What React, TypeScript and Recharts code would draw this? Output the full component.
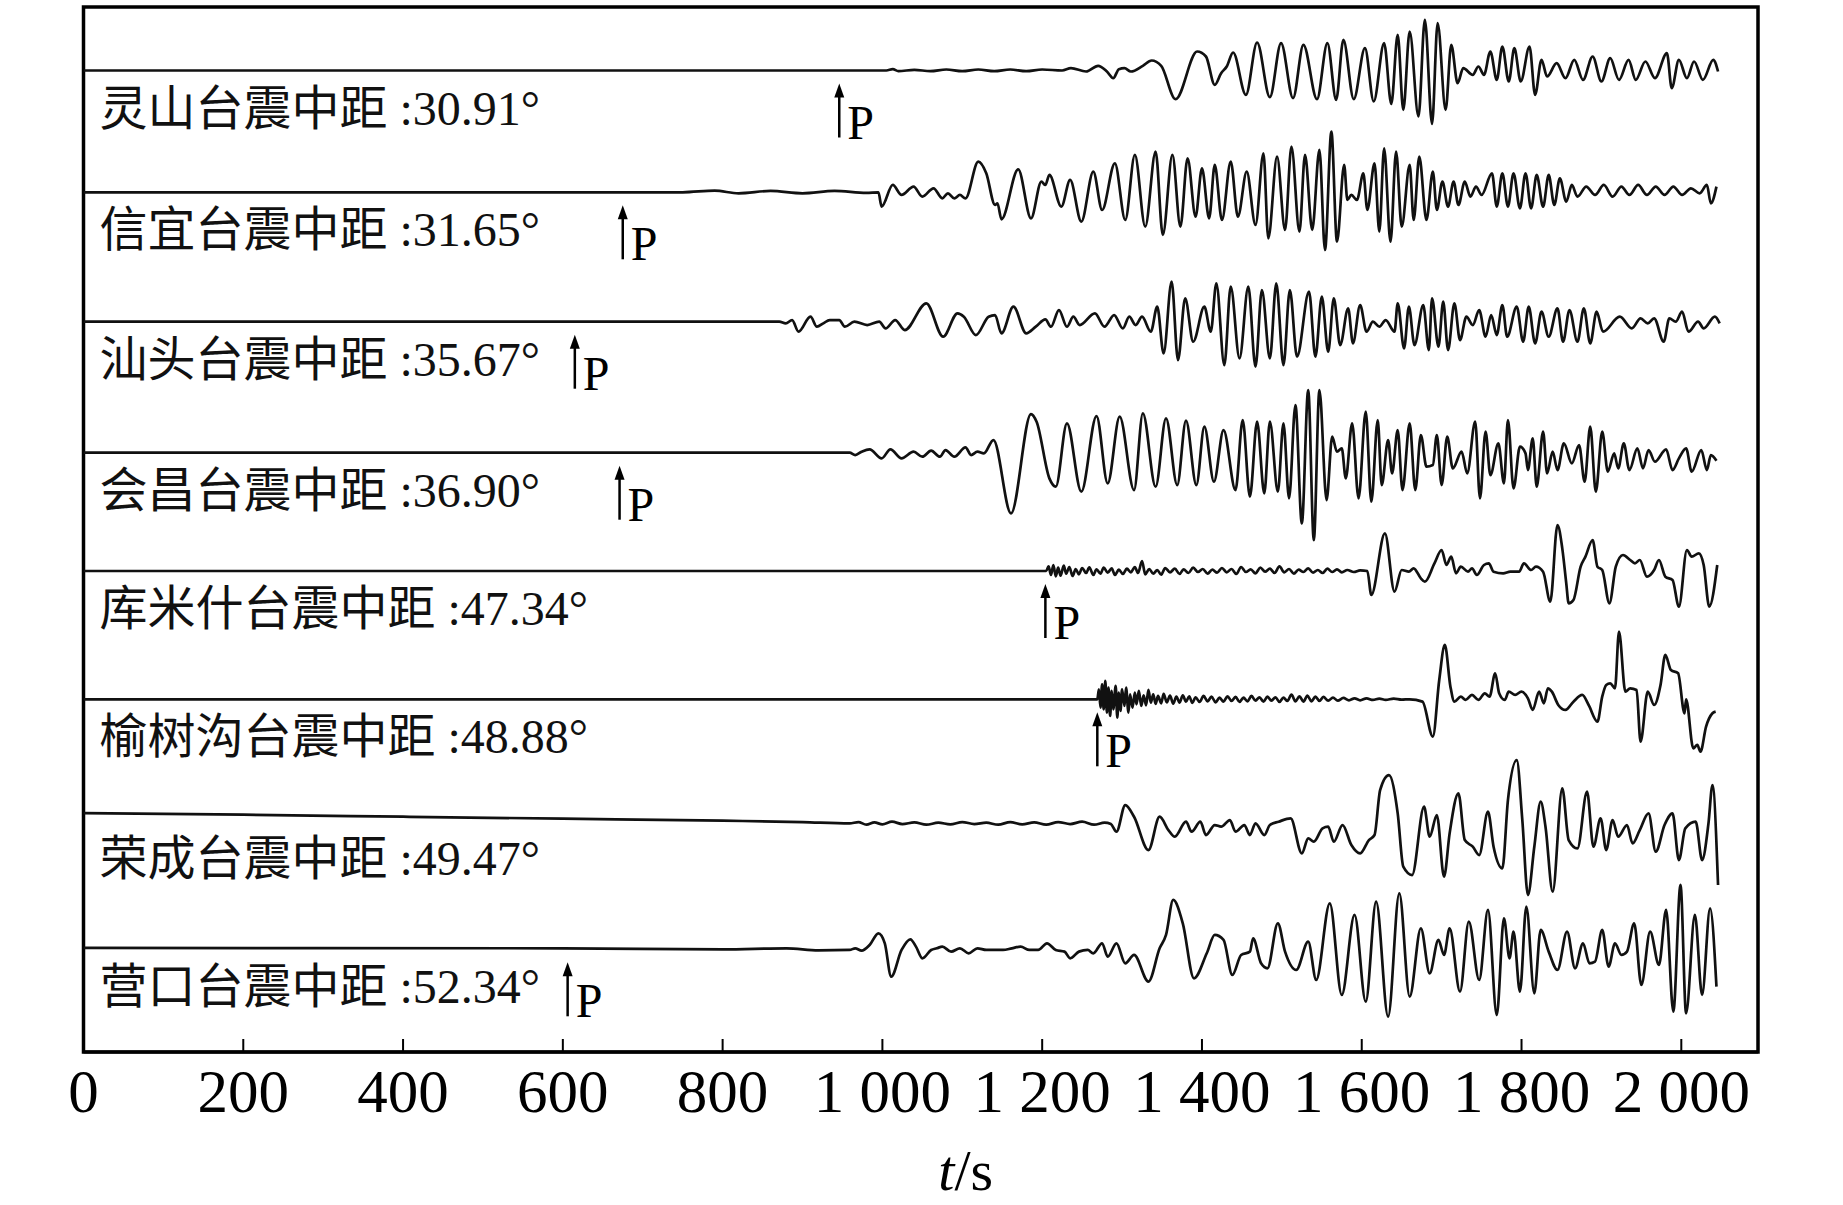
import React from "react";
import { LineChart, Line, XAxis, YAxis, ReferenceDot, ReferenceArea } from "recharts";

const stations = ["灵山台", "信宜台", "汕头台", "会昌台", "库米什台", "榆树沟台", "荣成台", "营口台"];
const distances = ["30.91", "31.65", "35.67", "36.90", "47.34", "48.88", "49.47", "52.34"];
// P arrival marks (s); 荣成台 has none
const pArrivals: (number | null)[] = [946, 675, 615, 671, 1204, 1269, null, 606];
const xTicks = [0, 200, 400, 600, 800, 1000, 1200, 1400, 1600, 1800, 2000];

// waveforms as [t (s), amplitude] pairs
const lingshan: [number, number][] = [
  [0, 0], [1005, 0], [1013, 4], [1020, -2], [1040, 2], [1060, -2], [1080, 3], [1100, -2], [1120, 3], [1140, -2],
  [1160, 3], [1180, -2], [1200, 3], [1225, 0], [1236, 7], [1255, -3], [1270, 14], [1281, -3], [1289, -23], [1296, 4],
  [1303, 7], [1311, -3], [1326, 14], [1337, 30], [1349, 14], [1367, -86], [1394, 57], [1405, 42], [1416, -43], [1424, -8],
  [1431, 12], [1439, 54], [1455, -73], [1469, 84], [1485, -80], [1499, 82], [1514, -83], [1527, 77], [1544, -86], [1557, 82],
  [1568, -88], [1577, 92], [1590, -86], [1604, 67], [1615, -93], [1628, 82], [1637, -100], [1645, 107], [1652, -118], [1660, 117],
  [1671, -138], [1679, 152], [1688, -160], [1695, 142], [1705, -118], [1712, 77], [1720, -38], [1727, 7], [1739, -13], [1746, 12],
  [1753, -13], [1761, 57], [1769, -28], [1776, 72], [1784, -33], [1791, 67], [1799, -33], [1810, 72], [1817, -73], [1825, 32],
  [1832, -18], [1844, 22], [1855, -23], [1866, 32], [1877, -28], [1889, 42], [1900, -33], [1911, 37], [1922, -28], [1934, 32],
  [1943, -28], [1955, 27], [1967, -23], [1982, 52], [1988, -53], [1997, 32], [2007, -23], [2016, 27], [2027, -28], [2040, 32],
  [2046, -3],
];

const xinyi: [number, number][] = [
  [0, 0], [750, 0], [790, 5], [820, -3], [860, 4], [900, -3], [940, 4], [980, -2], [995, 0], [999, -43],
  [1013, 22], [1024, -8], [1039, 17], [1050, -13], [1064, 12], [1075, -18], [1082, -3], [1090, -18], [1097, -8], [1104, -18],
  [1120, 92], [1130, 57], [1141, -38], [1144, -33], [1149, -81], [1170, 69], [1186, -78], [1199, 32], [1204, 22], [1209, 52],
  [1224, -43], [1235, 37], [1249, -88], [1264, 62], [1275, -53], [1291, 87], [1304, -83], [1316, 112], [1329, -103], [1342, 122],
  [1351, -128], [1363, 112], [1373, -103], [1382, 102], [1392, -73], [1400, 72], [1409, -78], [1416, 82], [1425, -83], [1436, 92],
  [1445, -73], [1456, 62], [1467, -98], [1477, 117], [1483, -138], [1494, 107], [1504, -113], [1512, 137], [1522, -118], [1529, 112],
  [1538, -113], [1547, 127], [1554, -173], [1562, 182], [1569, -148], [1578, 82], [1582, -23], [1587, -8], [1594, -23], [1602, 57],
  [1607, -53], [1616, 87], [1622, -118], [1628, 132], [1636, -148], [1643, 122], [1650, -103], [1660, 82], [1665, -83], [1672, 107],
  [1681, -83], [1689, 62], [1694, -53], [1701, 32], [1708, -43], [1715, 32], [1721, -38], [1729, 32], [1736, -13], [1743, 17],
  [1750, -8], [1763, 57], [1769, -43], [1776, 57], [1783, -43], [1790, 57], [1798, -48], [1805, 57], [1812, -48], [1819, 52],
  [1827, -43], [1834, 52], [1841, -38], [1848, 42], [1856, -28], [1863, 22], [1870, -13], [1881, 17], [1892, -8], [1903, 22],
  [1914, -13], [1925, 17], [1935, -8], [1946, 22], [1957, -8], [1968, 17], [1979, -8], [1990, 17], [2001, -8], [2012, 12],
  [2023, -3], [2032, 22], [2037, -33], [2044, 17],
];

const shantou: [number, number][] = [
  [0, 0], [871, 0], [879, -5], [887, 5], [895, -30], [910, 15], [918, -15], [926, -5], [934, 5], [946, 5],
  [953, -15], [965, 0], [981, -10], [996, 0], [1004, -20], [1016, 5], [1028, -25], [1055, 55], [1076, -45], [1094, 25],
  [1102, 15], [1117, -40], [1133, 15], [1141, 20], [1149, -35], [1164, 45], [1180, -35], [1192, -15], [1204, 7], [1211, -15],
  [1221, 35], [1231, -15], [1239, 15], [1247, -10], [1266, 25], [1278, -15], [1290, 20], [1301, -20], [1309, 15], [1317, -10],
  [1325, 15], [1336, -30], [1344, 45], [1352, -95], [1362, 120], [1370, -115], [1379, 70], [1389, -60], [1403, 45], [1411, -30],
  [1418, 115], [1428, -130], [1436, 105], [1447, -110], [1458, 105], [1467, -135], [1475, 95], [1485, -110], [1493, 115], [1502, -130],
  [1510, 95], [1519, -105], [1534, 90], [1542, -105], [1550, 75], [1558, -90], [1565, 70], [1573, -70], [1583, 40], [1589, -65],
  [1598, 50], [1606, -30], [1614, 0], [1622, -15], [1630, 5], [1641, -30], [1645, 55], [1653, -80], [1659, 45], [1666, -70],
  [1677, 50], [1684, -85], [1688, 70], [1696, -75], [1702, 60], [1708, -85], [1716, 55], [1723, -55], [1731, 15], [1739, -10],
  [1747, 35], [1755, -45], [1762, 20], [1769, -40], [1776, 50], [1782, -45], [1794, 45], [1802, -60], [1809, 45], [1817, -65],
  [1825, 30], [1834, -45], [1845, 40], [1852, -60], [1860, 35], [1870, -60], [1878, 40], [1886, -65], [1894, 30], [1902, -30],
  [1923, 15], [1938, -20], [1949, 10], [1958, -5], [1966, 10], [1978, -60], [1985, 10], [1993, 0], [2001, 30], [2009, -30],
  [2021, 0], [2028, -20], [2042, 15], [2048, -5],
];

const huichang: [number, number][] = [
  [0, 0], [959, 0], [966, -7], [974, 3], [984, 10], [999, -17], [1010, 10], [1024, -17], [1039, 3], [1050, -12],
  [1061, 6], [1072, -12], [1079, 8], [1090, -12], [1104, 16], [1111, -7], [1119, 3], [1127, -2], [1139, 38], [1161, -182],
  [1186, 116], [1193, 93], [1209, -77], [1217, -102], [1231, 88], [1249, -117], [1268, 110], [1282, -92], [1297, 108], [1315, -112],
  [1326, 118], [1342, -102], [1355, 103], [1369, -97], [1380, 96], [1393, -97], [1403, 78], [1415, -87], [1427, 68], [1442, -112],
  [1451, 98], [1460, -132], [1469, 93], [1478, -122], [1485, 93], [1495, -117], [1502, 88], [1509, -137], [1517, 143], [1525, -212],
  [1533, 188], [1540, -262], [1547, 188], [1556, -142], [1563, 48], [1569, 3], [1575, 13], [1580, -77], [1588, 88], [1596, -137],
  [1605, 123], [1612, -147], [1620, 98], [1625, -97], [1633, 38], [1638, -62], [1645, 68], [1651, -112], [1660, 88], [1667, -112],
  [1674, 53], [1681, -42], [1689, -37], [1694, 53], [1700, -97], [1707, 48], [1714, -47], [1725, 3], [1732, -62], [1742, 93],
  [1748, -137], [1755, 63], [1761, -67], [1771, 28], [1778, -92], [1783, 98], [1790, -107], [1798, 18], [1805, -2], [1808, -52],
  [1814, 43], [1819, -102], [1827, 63], [1832, -62], [1839, 3], [1845, -52], [1853, 28], [1863, -32], [1872, 23], [1879, -87],
  [1886, 78], [1893, -117], [1901, 63], [1908, -57], [1916, -2], [1921, -47], [1928, 28], [1935, -52], [1945, 13], [1952, -47],
  [1959, 8], [1967, -27], [1981, 10], [1989, -52], [1997, -17], [2006, 13], [2013, -57], [2025, 8], [2032, -52], [2037, -7],
  [2044, -24],
];

const kumishi: [number, number][] = [
  [0, 0], [1172, 0], [1205, 0], [1208, 14], [1211, -12], [1214, 18], [1217, -16], [1220, 10], [1223, -14], [1227, 16],
  [1230, -8], [1234, 12], [1238, -15], [1242, 6], [1246, -10], [1250, 9], [1255, -6], [1259, 11], [1264, -12], [1268, 5],
  [1273, -8], [1277, 10], [1282, -5], [1287, 8], [1291, -12], [1296, 4], [1301, -9], [1306, 7], [1311, -4], [1316, 12],
  [1320, -6], [1325, 30], [1329, -10], [1334, 6], [1339, -8], [1344, 3], [1349, -11], [1354, 9], [1360, -4], [1366, 7],
  [1372, -9], [1377, 5], [1383, -6], [1389, 10], [1395, -3], [1401, 6], [1407, -8], [1413, 4], [1419, -5], [1425, 9],
  [1431, -4], [1437, 6], [1443, -9], [1449, 12], [1455, -3], [1461, 5], [1467, -7], [1473, 10], [1479, -2], [1485, 7],
  [1491, -6], [1497, 14], [1503, -4], [1509, 6], [1515, -8], [1521, 4], [1527, -3], [1533, 8], [1539, -5], [1545, 3],
  [1551, -6], [1557, 7], [1563, -3], [1569, 5], [1575, -4], [1582, 3], [1590, -3], [1598, 2], [1607, 0], [1612, -72],
  [1629, 113], [1641, -62], [1650, 3], [1659, -2], [1665, 8], [1674, -22], [1679, -32], [1691, 23], [1700, 63], [1706, 18],
  [1712, 43], [1718, -7], [1724, 13], [1733, -2], [1738, 8], [1744, -12], [1753, 18], [1759, 23], [1765, -2], [1777, -7],
  [1786, -2], [1797, -2], [1803, 23], [1812, 3], [1818, 13], [1827, -2], [1836, -92], [1845, 138], [1851, 68], [1856, -37],
  [1859, -97], [1865, -87], [1874, 13], [1880, 43], [1889, 93], [1895, 13], [1901, 3], [1910, -97], [1918, 13], [1927, 48],
  [1936, 33], [1942, 23], [1948, 33], [1957, -17], [1966, 3], [1972, 33], [1980, -17], [1989, -27], [1997, -107], [2007, 63],
  [2013, 43], [2022, 53], [2028, 18], [2035, -107], [2045, 18],
];

const yushugou: [number, number][] = [
  [0, 0], [1247, 0], [1269, 0], [1271, 30], [1273, -25], [1275, 45], [1277, -30], [1279, 55], [1281, -40], [1283, 35],
  [1285, -50], [1287, 25], [1289, -30], [1292, 40], [1294, -55], [1296, 20], [1298, -35], [1300, 30], [1303, -20], [1305, 35],
  [1308, -40], [1310, 15], [1313, -25], [1316, 20], [1318, -15], [1321, 25], [1324, -20], [1327, 12], [1330, -18], [1333, 28],
  [1336, -10], [1339, 15], [1342, -14], [1345, 10], [1349, -12], [1352, 16], [1356, -9], [1360, 11], [1364, -13], [1368, 8],
  [1372, -10], [1376, 12], [1380, -7], [1384, 9], [1388, -11], [1392, 6], [1397, -8], [1402, 10], [1407, -6], [1412, 8],
  [1417, -9], [1422, 5], [1427, -7], [1432, 9], [1437, -5], [1442, 7], [1447, -8], [1452, 5], [1457, -6], [1462, 10],
  [1467, -4], [1472, 6], [1477, -7], [1482, 8], [1487, -4], [1492, 6], [1497, -8], [1502, 5], [1507, -5], [1512, 14],
  [1517, -6], [1522, 9], [1527, -7], [1532, 11], [1537, -6], [1542, 8], [1547, -5], [1552, 7], [1558, -4], [1564, 5],
  [1570, -4], [1577, 4], [1584, -3], [1591, 3], [1598, -3], [1606, 3], [1614, -2], [1622, 2], [1630, -2], [1640, 2],
  [1650, -1], [1660, 0], [1676, -7], [1689, -112], [1697, 58], [1704, 163], [1711, 38], [1716, -7], [1724, 8], [1730, -2],
  [1738, 13], [1746, -2], [1754, 18], [1760, 8], [1767, 78], [1772, 18], [1779, -2], [1784, 23], [1792, 13], [1800, 23],
  [1808, 3], [1814, -32], [1822, 23], [1828, -12], [1833, 33], [1838, 23], [1846, -17], [1855, -32], [1865, -7], [1876, 13],
  [1884, -17], [1895, -67], [1901, 8], [1906, 43], [1911, 48], [1917, 33], [1922, 203], [1930, 23], [1936, 33], [1944, 28],
  [1949, -127], [1958, 23], [1966, -17], [1974, 43], [1980, 133], [1987, 88], [1996, 78], [2004, -42], [2006, 0], [2015, -147],
  [2020, -137], [2024, -157], [2031, -82], [2039, -42], [2043, -37],
];

const rongcheng: [number, number][] = [
  [0, 23], [200, 18], [400, 12], [600, 6], [800, 0], [900, -4], [959, -8], [970, -4], [980, -12], [990, -5],
  [1000, -11], [1012, -3], [1025, -10], [1040, -5], [1055, -12], [1070, -6], [1085, -11], [1100, -4], [1115, -10], [1130, -6],
  [1145, -12], [1160, -4], [1175, -11], [1190, -5], [1205, -12], [1220, -4], [1235, -10], [1250, -3], [1265, -12], [1278, -6],
  [1286, -10], [1293, -33], [1304, 47], [1315, 12], [1333, -88], [1347, 12], [1358, -28], [1366, -48], [1380, -3], [1387, -33],
  [1398, -3], [1405, -43], [1416, -13], [1424, -18], [1435, 2], [1442, -33], [1453, -13], [1460, -43], [1467, -8], [1478, -43],
  [1485, -13], [1496, -3], [1511, 7], [1525, -98], [1533, -53], [1540, -63], [1551, -23], [1558, -18], [1565, -63], [1576, -13],
  [1587, -73], [1598, -98], [1609, -58], [1616, -43], [1623, 92], [1634, 137], [1645, 22], [1652, -138], [1663, -163], [1678, 42],
  [1685, -48], [1694, 17], [1703, -168], [1710, -38], [1721, 82], [1729, -58], [1739, -78], [1747, -103], [1758, 27], [1765, -78],
  [1776, -143], [1783, 62], [1794, 182], [1801, 2], [1808, -223], [1816, -78], [1824, 57], [1830, -18], [1839, -213], [1851, 97],
  [1859, -58], [1870, -83], [1882, 87], [1890, -78], [1899, 7], [1906, -88], [1914, 2], [1921, -48], [1932, -13], [1939, -68],
  [1948, -28], [1959, 22], [1968, -93], [1979, -13], [1989, 22], [1997, -118], [2005, -23], [2018, -3], [2026, -118], [2034, -8],
  [2039, 107], [2046, -193],
];

const yingkou: [number, number][] = [
  [0, 4], [600, 3], [800, 0], [880, 3], [920, -3], [959, -2], [966, 3], [974, -4], [984, 13], [995, 48],
  [1003, 18], [1011, -82], [1024, -2], [1035, 30], [1042, 8], [1050, -27], [1061, -2], [1068, 3], [1075, 8], [1086, -7],
  [1097, 3], [1108, -12], [1119, 3], [1130, -2], [1141, -2], [1151, -2], [1162, 3], [1173, 8], [1184, -2], [1195, -2],
  [1206, 18], [1217, -2], [1228, -7], [1235, -27], [1246, -7], [1257, -2], [1264, -12], [1275, 18], [1282, -22], [1293, 18],
  [1304, -42], [1315, -17], [1333, -97], [1347, 3], [1355, 43], [1364, 148], [1376, 78], [1390, -87], [1406, -12], [1416, 43],
  [1427, 28], [1438, -77], [1449, -17], [1460, -7], [1464, 33], [1474, -42], [1482, -57], [1495, 78], [1504, -7], [1518, -62],
  [1533, 23], [1543, -92], [1560, 138], [1575, -137], [1591, 103], [1605, -157], [1618, 143], [1633, -202], [1647, 168], [1660, -142],
  [1674, 63], [1685, -72], [1696, 28], [1703, -17], [1710, 63], [1723, -127], [1734, 83], [1747, -92], [1758, 118], [1769, -197],
  [1778, 93], [1785, -27], [1790, 53], [1798, -127], [1806, 128], [1816, -132], [1824, 58], [1834, -7], [1845, -62], [1857, 53],
  [1867, -57], [1877, 18], [1885, -42], [1892, -37], [1901, 58], [1909, -52], [1917, 18], [1925, -17], [1932, -7], [1941, 78],
  [1950, -107], [1961, 53], [1972, -47], [1981, 118], [1990, -187], [1999, 193], [2006, -192], [2017, 103], [2026, -137], [2036, 123],
  [2044, -112],
];

const waveforms = [lingshan, xinyi, shantou, huichang, kumishi, yushugou, rongcheng, yingkou];

// layout (px in the 1843x1205 page)
const W = 1843;
const H = 1205;
const PLOT_LEFT = 83.5;
const PLOT_RIGHT = 1758;
const PLOT_TOP = 7;
const PLOT_BOTTOM = 1052;
const X_AXIS_H = 140;
const T_MAX = 2096;
const BASELINES = [70.5, 192.3, 321.7, 452.7, 571, 699.3, 820.7, 949.3];
const AMP_PX = 1 / 3;
const Y_MAX = PLOT_BOTTOM - PLOT_TOP;

const SERIF = "'Liberation Serif', 'Times New Roman', serif";
const LABEL_FONT = "'Liberation Serif', 'Noto Sans CJK SC', serif";

const baseOf = (i: number) => PLOT_BOTTOM - BASELINES[i];

const series = waveforms.map((w, i) => w.map(([t, a]) => ({ t, v: baseOf(i) + a * AMP_PX })));

const fmtTick = (v: number) =>
  v >= 1000 ? `${Math.floor(v / 1000)} ${String(v % 1000).padStart(3, "0")}` : String(v);

const TimeTick = (props: any) => {
  const { x, y, payload } = props;
  return (
    <g>
      {payload.value > 0 && (
        <line x1={x} x2={x} y1={y} y2={y - 13} stroke="#000" strokeWidth={2} />
      )}
      <text x={x} y={y + 60} textAnchor="middle" fontFamily={SERIF} fontSize={61} fill="#000">
        {fmtTick(payload.value)}
      </text>
    </g>
  );
};

const AxisTitle = (props: any) => {
  const vb = props.viewBox;
  return (
    <text x={vb.x + vb.width / 2 + 45} y={vb.y + 138} textAnchor="middle" fontFamily={SERIF} fontSize={58} fill="#000">
      <tspan fontStyle="italic">t</tspan>/s
    </text>
  );
};

export default function App() {
  return (
    <div style={{ position: "absolute", left: 0, top: 0, width: W, height: H, background: "#fff" }}>
      <LineChart
        width={W}
        height={H}
        margin={{ left: PLOT_LEFT, right: W - PLOT_RIGHT, top: PLOT_TOP, bottom: H - PLOT_BOTTOM - X_AXIS_H }}
      >
        <XAxis
          type="number"
          dataKey="t"
          domain={[0, T_MAX]}
          allowDataOverflow
          ticks={xTicks}
          interval={0}
          tick={<TimeTick />}
          tickLine={false}
          tickSize={0}
          tickMargin={0}
          height={X_AXIS_H}
          axisLine={{ stroke: "#000", strokeWidth: 3 }}
          label={AxisTitle}
        />
        <YAxis type="number" domain={[0, Y_MAX]} allowDataOverflow hide />
        <ReferenceArea
          x1={0}
          x2={T_MAX}
          y1={0}
          y2={Y_MAX}
          ifOverflow="visible"
          fill="none"
          fillOpacity={0}
          stroke="#000"
          strokeWidth={3.5}
        />
        {series.map((d, i) => (
          <Line
            key={stations[i]}
            data={d}
            dataKey="v"
            type="monotone"
            dot={false}
            stroke="#111"
            strokeWidth={2.7}
            isAnimationActive={false}
          />
        ))}
        {stations.map((s, i) => (
          <ReferenceDot
            key={"label-" + s}
            x={0}
            y={baseOf(i)}
            r={0}
            ifOverflow="visible"
            shape={(p: any) => (
              <text x={p.cx + 16} y={p.cy + 54} fontFamily={LABEL_FONT} fontSize={48} fill="#111">
                {`${s}震中距 :${distances[i]}°`}
              </text>
            )}
          />
        ))}
        {pArrivals.map((pt, i) =>
          pt == null ? null : (
            <ReferenceDot
              key={"p-" + stations[i]}
              x={pt}
              y={baseOf(i)}
              r={0}
              ifOverflow="visible"
              shape={(p: any) => (
                <g>
                  <line x1={p.cx} x2={p.cx} y1={p.cy + 24} y2={p.cy + 67} stroke="#000" strokeWidth={2.5} />
                  <path d={`M${p.cx - 5},${p.cy + 27} L${p.cx},${p.cy + 13} L${p.cx + 5},${p.cy + 27} Z`} fill="#000" />
                  <text x={p.cx + 8} y={p.cy + 68} fontFamily={SERIF} fontSize={48} fill="#000">
                    P
                  </text>
                </g>
              )}
            />
          )
        )}
      </LineChart>
    </div>
  );
}
